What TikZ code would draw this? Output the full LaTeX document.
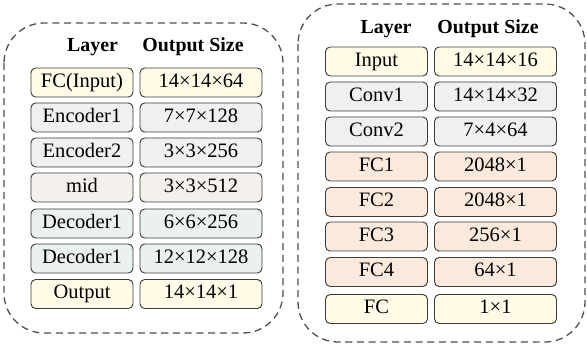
\documentclass[tikz,border=0pt]{standalone}
\usepackage{fontspec}
\setmainfont{Liberation Serif}
\usetikzlibrary{positioning}

\definecolor{cyellow}{HTML}{FFFBE6}
\definecolor{cgrey}{HTML}{F0F0F0}
\definecolor{cmid}{HTML}{F4F0EC}
\definecolor{cdec}{HTML}{EAF1EE}
\definecolor{cpeach}{HTML}{FBEADC}
\definecolor{cedge}{HTML}{3C3C3C}
\definecolor{cdash}{HTML}{505050}

\begin{document}
\begin{tikzpicture}[x=0.03cm, y=-0.03cm,
  cell/.style={draw=cedge, line width=0.8pt, rounded corners=4pt, minimum height=0.87cm,
    inner sep=0pt, text height=12pt, text depth=3.5pt, font=\rmfamily\fontsize{17.5}{20}\selectfont},
  namecell/.style={cell, minimum width=3.06cm},
  sizecell/.style={cell, minimum width=3.66cm},
  head/.style={text height=12pt, text depth=3.5pt, font=\rmfamily\fontsize{17}{20}\selectfont\bfseries},
  panel/.style={draw=cdash, line width=1.1pt, dash pattern=on 6pt off 4pt, rounded corners=1.2cm}]
  \useasboundingbox (0,0) rectangle (587,349);

  % Left panel
  \draw[panel] (4,23) rectangle (283,333);
  \node[head] (lhl) at (92.5,47) {Layer};
  \node[head] (lhs) at (193,47) {Output Size};
  \node[namecell, fill=cyellow] (la1) at (82,82.5) {FC(Input)};
  \node[sizecell, fill=cyellow] (lb1) at (201,82.5) {14×14×64};
  \node[namecell, fill=cgrey] (la2) at (82,117.5) {Encoder1};
  \node[sizecell, fill=cgrey] (lb2) at (201,117.5) {7×7×128};
  \node[namecell, fill=cgrey] (la3) at (82,152.5) {Encoder2};
  \node[sizecell, fill=cgrey] (lb3) at (201,152.5) {3×3×256};
  \node[namecell, fill=cmid] (la4) at (82,187.5) {mid};
  \node[sizecell, fill=cmid] (lb4) at (201,187.5) {3×3×512};
  \node[namecell, fill=cdec] (la5) at (82,223.5) {Decoder1};
  \node[sizecell, fill=cdec] (lb5) at (201,223.5) {6×6×256};
  \node[namecell, fill=cdec] (la6) at (82,258.5) {Decoder1};
  \node[sizecell, fill=cdec] (lb6) at (201,258.5) {12×12×128};
  \node[namecell, fill=cyellow] (la7) at (82,294) {Output};
  \node[sizecell, fill=cyellow] (lb7) at (201,294) {14×14×1};

  % Right panel
  \draw[panel] (298,4) rectangle (585,342);
  \node[head] (rhl) at (386,29) {Layer};
  \node[head] (rhs) at (488,29) {Output Size};
  \node[namecell, fill=cyellow] (ra1) at (376.5,61.5) {Input};
  \node[sizecell, fill=cyellow] (rb1) at (495.5,61.5) {14×14×16};
  \node[namecell, fill=cgrey] (ra2) at (376.5,96.5) {Conv1};
  \node[sizecell, fill=cgrey] (rb2) at (495.5,96.5) {14×14×32};
  \node[namecell, fill=cgrey] (ra3) at (376.5,131.5) {Conv2};
  \node[sizecell, fill=cgrey] (rb3) at (495.5,131.5) {7×4×64};
  \node[namecell, fill=cpeach] (ra4) at (376.5,166.5) {FC1};
  \node[sizecell, fill=cpeach] (rb4) at (495.5,166.5) {2048×1};
  \node[namecell, fill=cpeach] (ra5) at (376.5,202) {FC2};
  \node[sizecell, fill=cpeach] (rb5) at (495.5,202) {2048×1};
  \node[namecell, fill=cpeach] (ra6) at (376.5,236.5) {FC3};
  \node[sizecell, fill=cpeach] (rb6) at (495.5,236.5) {256×1};
  \node[namecell, fill=cpeach] (ra7) at (376.5,272) {FC4};
  \node[sizecell, fill=cpeach] (rb7) at (495.5,272) {64×1};
  \node[namecell, fill=cyellow] (ra8) at (376.5,309) {FC};
  \node[sizecell, fill=cyellow] (rb8) at (495.5,309) {1×1};
\end{tikzpicture}
\end{document}
